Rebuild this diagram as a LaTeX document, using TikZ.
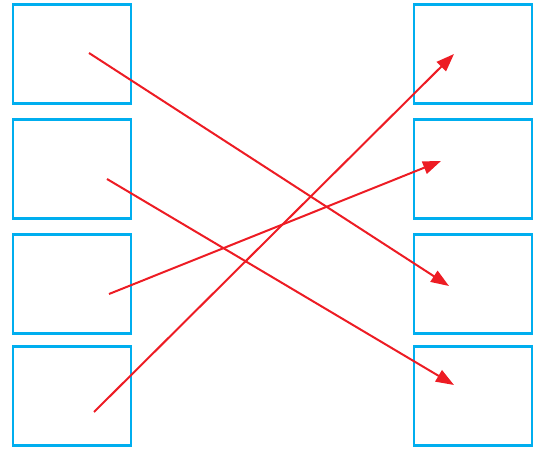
\documentclass[tikz,border=0pt]{standalone}
\usetikzlibrary{arrows.meta}
\definecolor{boxblue}{HTML}{00AEEF}
\definecolor{arrred}{HTML}{ED1C24}
\begin{document}
\begin{tikzpicture}[x=1pt,y=-1pt,
  cell/.style={draw=boxblue,line width=2.4pt,minimum width=118pt,minimum height=99pt,inner sep=0pt,anchor=north west},
  link/.style={draw=arrred,line width=2pt,-{Triangle[length=18pt,width=13pt]}}]
\useasboundingbox (0,0) rectangle (539,449);
\node[cell] (L1) at (11.5,3.5) {};
\node[cell] (L2) at (11.5,118.5) {};
\node[cell] (L3) at (11.5,233.5) {};
\node[cell] (L4) at (11.5,345.5) {};
\node[cell] (R1) at (412.5,3.5) {};
\node[cell] (R2) at (412.5,118.5) {};
\node[cell] (R3) at (412.5,233.5) {};
\node[cell] (R4) at (412.5,345.5) {};
\coordinate (a1) at (89,53);
\coordinate (a2) at (107,179);
\coordinate (a3) at (109,294);
\coordinate (a4) at (94,412);
\coordinate (b1) at (454,54);
\coordinate (b2) at (441,161);
\coordinate (b3) at (449,286);
\coordinate (b4) at (454,385);
\draw[link] (a1) -- (b3);
\draw[link] (a2) -- (b4);
\draw[link] (a3) -- (b2);
\draw[link] (a4) -- (b1);
\end{tikzpicture}
\end{document}
